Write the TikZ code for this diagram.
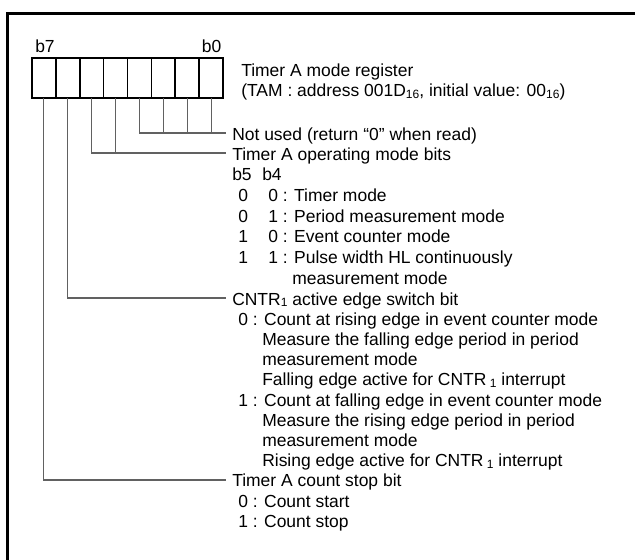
\documentclass[tikz,border=0pt]{standalone}
\usepackage{fontspec}
\setmainfont{Liberation Sans}
\newcommand\lowsub[1]{\raisebox{-1.2pt}{\fontsize{9}{9}\selectfont #1}}
\begin{document}
\begin{tikzpicture}[x=0.75pt,y=-0.75pt,
  txt/.style={anchor=base west, inner sep=0pt, font=\fontsize{13.1}{15}\selectfont},
  bitlbl/.style={anchor=base, inner sep=0pt, font=\fontsize{13.1}{15}\selectfont},
  cell/.style={draw, line width=1.2pt, fill=white, minimum width=17.906pt, minimum height=30pt, inner sep=0pt, outer sep=0pt},
  regframe/.style={draw, line width=2pt},
  lead/.style={draw=black!62, line width=0.8pt},
  frame/.style={draw, line width=1.7pt}]
\useasboundingbox (0,0) rectangle (635,560);
% outer frame
\draw[frame] (7.5,560) -- (7.5,13.5) -- (635,13.5);
% register cells
\foreach \i in {0,...,7}{
  \node[cell] (r\i) at ({223-23.875*(\i+0.5)},78) {};
}
\draw[regframe] (r7.north west) rectangle (r0.south east);
\node[bitlbl] (lb7) at (45,53) {b7};
\node[bitlbl] (lb0) at (211.5,53) {b0};
% title
\node[txt] (t1) at (241,77) {Timer A mode register};
\node[txt] (t2) at (241,97) {(TAM : address 001D\lowsub{16}, initial value: 00\lowsub{16})};
% not used
\node[txt] (nu) at (232,140) {Not used (return “0” when read)};
\coordinate (nuL) at (226,133);
\draw[lead] (r3.south) |- (nuL);
\draw[lead] (r2.south) -- (r2.south |- nuL);
\draw[lead] (r1.south) -- (r1.south |- nuL);
\draw[lead] (r0.south) -- (r0.south |- nuL);
% operating mode
\node[txt] (op) at (232,160) {Timer A operating mode bits};
\coordinate (opL) at (226,153);
\draw[lead] (r5.south) |- (opL);
\draw[lead] (r4.south) -- (r4.south |- opL);
\node[txt] (h5) at (232,180.7) {b5};
\node[txt] (h4) at (262,180.7) {b4};
\node[txt] (m1a) at (238,201.4) {0};
\node[txt] (m1b) at (268,201.4) {0 : Timer mode};
\node[txt] (m2a) at (238,222.1) {0};
\node[txt] (m2b) at (268,222.1) {1 : Period measurement mode};
\node[txt] (m3a) at (238,242.8) {1};
\node[txt] (m3b) at (268,242.8) {0 : Event counter mode};
\node[txt] (m4a) at (238,263.5) {1};
\node[txt] (m4b) at (268,263.5) {1 : Pulse width HL continuously};
\node[txt] (m4c) at (292,284.2) {measurement mode};
% CNTR1 edge
\node[txt] (cn) at (232,305) {CNTR\lowsub{1} active edge switch bit};
\coordinate (cnL) at (226,298);
\draw[lead] (r6.south) |- (cnL);
\node[txt] (c0a) at (238,325.2) {0 : Count at rising edge in event counter mode};
\node[txt] (c0b) at (262,345.4) {Measure the falling edge period in period};
\node[txt] (c0c) at (262,365.6) {measurement mode};
\node[txt] (c0d) at (262,385.8) {Falling edge active for CNTR\hspace{2.5pt}\lowsub{1} interrupt};
\node[txt] (c1a) at (238,406) {1 : Count at falling edge in event counter mode};
\node[txt] (c1b) at (262,426.2) {Measure the rising edge period in period};
\node[txt] (c1c) at (262,446.4) {measurement mode};
\node[txt] (c1d) at (262,466.6) {Rising edge active for CNTR\hspace{2.5pt}\lowsub{1} interrupt};
% count stop
\node[txt] (cs) at (232,486.8) {Timer A count stop bit};
\coordinate (csL) at (226,480);
\draw[lead] (r7.south) |- (csL);
\node[txt] (s0) at (238,507) {0 : Count start};
\node[txt] (s1) at (238,527.2) {1 : Count stop};
\end{tikzpicture}
\end{document}
